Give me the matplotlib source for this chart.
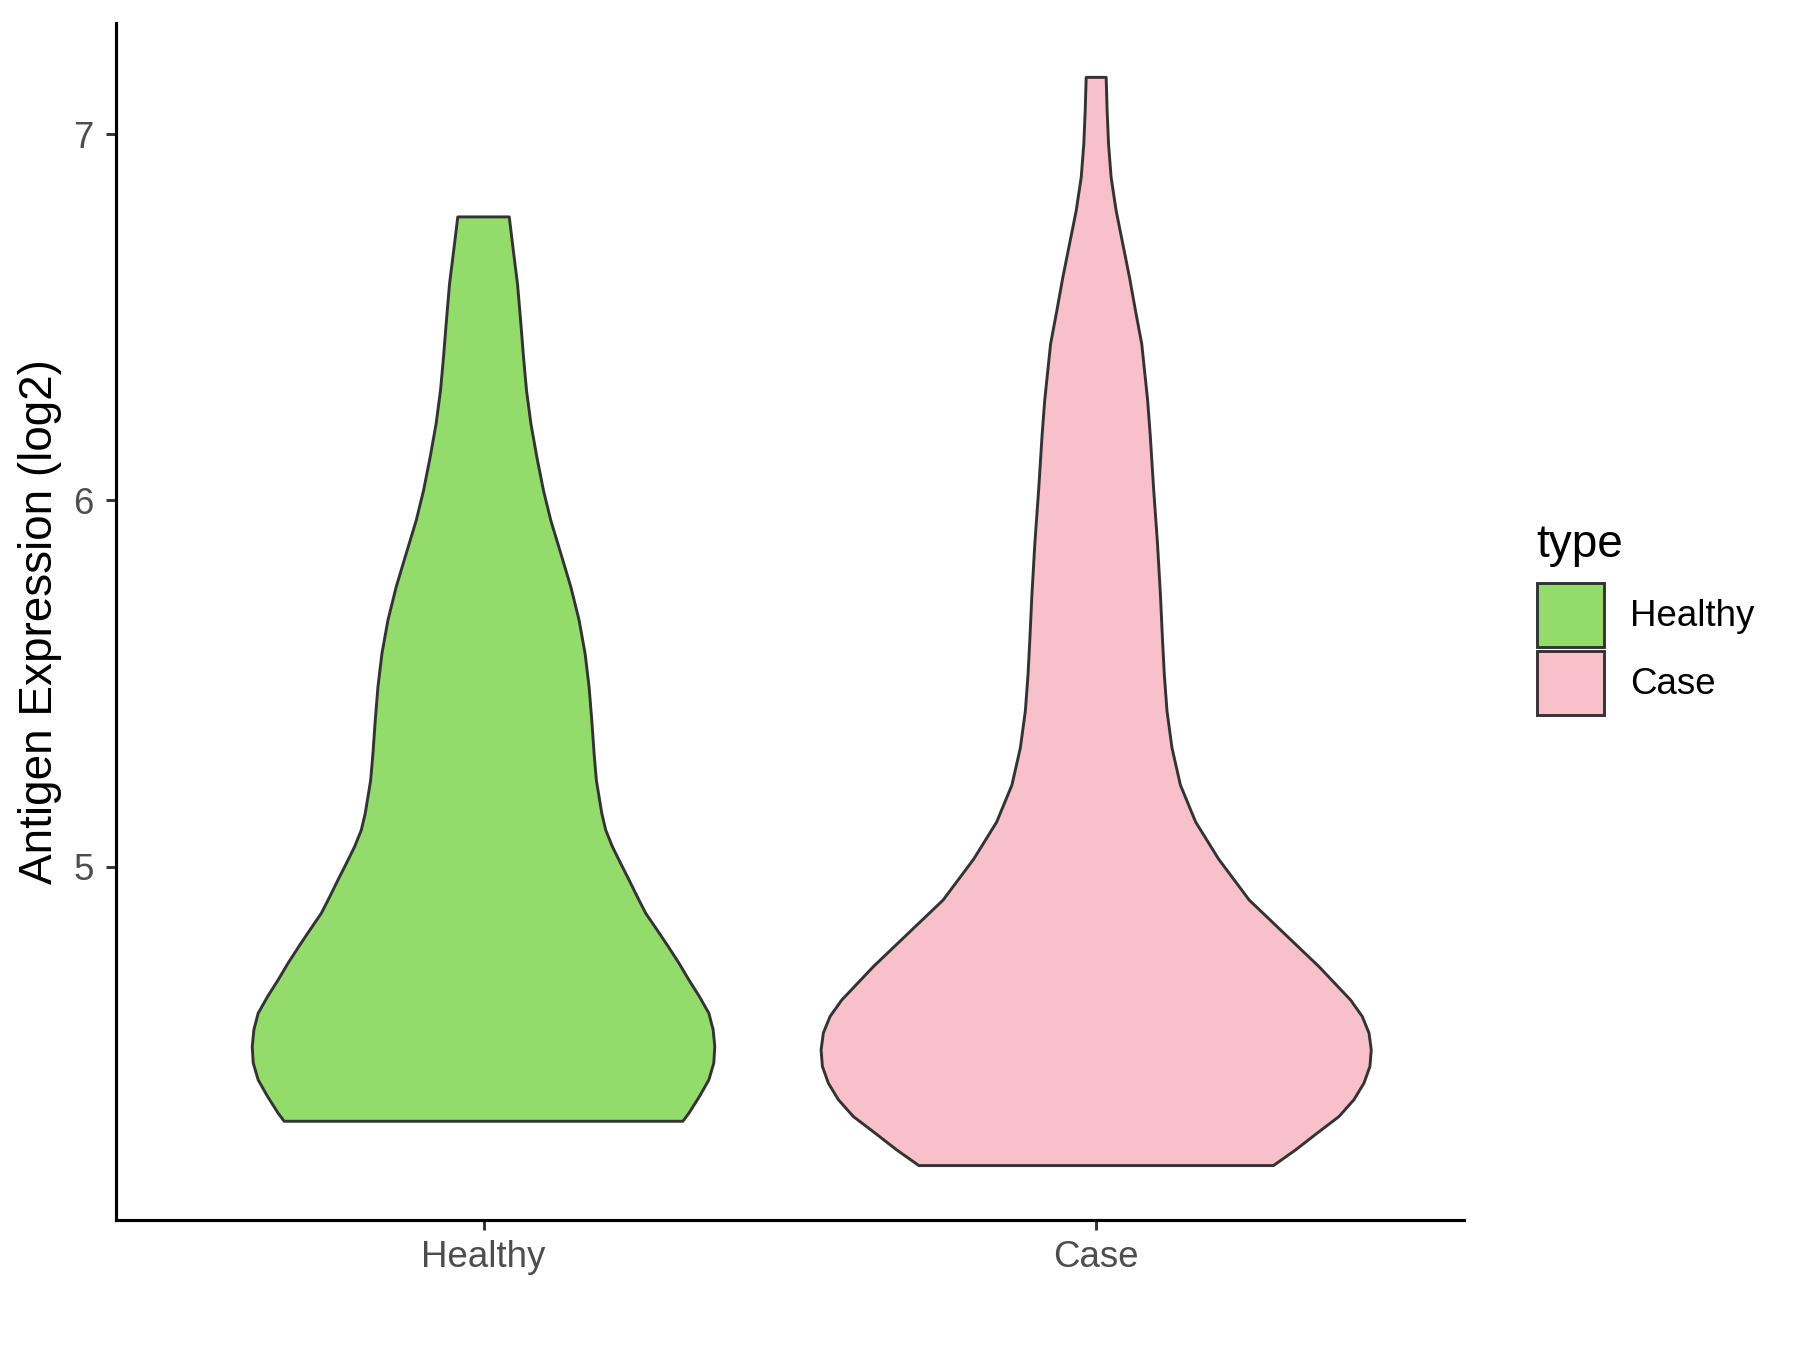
import matplotlib
matplotlib.use("Agg")
import numpy as np
import matplotlib.pyplot as plt
from matplotlib.patches import Patch

plt.rcParams['font.family'] = ['Liberation Sans', 'DejaVu Sans']

# === Data: violin outline (value, half width) ===
categories = ['Healthy', 'Case']
fill_colors = ['#93DC6B', '#F7C0CB']

healthy_y = [6.774, 6.664, 6.591, 6.482, 6.391, 6.300, 6.209, 6.118, 6.027,
             5.945, 5.855, 5.764, 5.673, 5.582, 5.491, 5.400, 5.309, 5.236,
             5.191, 5.146, 5.100, 5.055, 5.009, 4.964, 4.918, 4.873, 4.827,
             4.782, 4.737, 4.691, 4.645, 4.600, 4.555, 4.509, 4.464, 4.418,
             4.373, 4.327, 4.305]
healthy_w = [0.042, 0.050, 0.0555, 0.061, 0.0653, 0.0702, 0.0774, 0.0871, 0.0979,
             0.1099, 0.1262, 0.1425, 0.1560, 0.1658, 0.1723, 0.1767, 0.1805, 0.1842,
             0.1886, 0.1930, 0.1995, 0.2103, 0.2239, 0.2375, 0.2510, 0.2647, 0.2835,
             0.3015, 0.3189, 0.3352, 0.3526, 0.3678, 0.3748, 0.3775, 0.3759, 0.3678,
             0.3526, 0.3352, 0.3254]

case_y = [7.155, 7.064, 6.973, 6.882, 6.791, 6.700, 6.609, 6.518, 6.427,
          6.275, 6.177, 6.031, 5.885, 5.739, 5.626, 5.525, 5.425, 5.324,
          5.223, 5.122, 5.021, 4.909, 4.818, 4.727, 4.636, 4.591, 4.546,
          4.500, 4.455, 4.409, 4.364, 4.318, 4.273, 4.227, 4.184]
case_w = [0.0163, 0.0179, 0.0202, 0.0244, 0.0326, 0.0435, 0.0544, 0.0642, 0.0744,
          0.0839, 0.0883, 0.0938, 0.1000, 0.1050, 0.1081, 0.1112, 0.1156, 0.1238,
          0.1375, 0.1624, 0.1998, 0.2498, 0.3068, 0.3638, 0.4153, 0.4344, 0.4453,
          0.4490, 0.4469, 0.4371, 0.4208, 0.3964, 0.3611, 0.3257, 0.2894]

profiles = [(healthy_y, healthy_w), (case_y, case_w)]

# === Plotting ===
fig = plt.figure(figsize=(6, 4.5), dpi=300)
ax = fig.add_axes([0.0644, 0.0963, 0.8132 - 0.0644, 0.983 - 0.0963])

for i, ((ys, ws), col) in enumerate(zip(profiles, fill_colors)):
    pos = i + 1
    ys = np.array(ys)
    ws = np.array(ws)
    xs = np.concatenate([pos + ws, (pos - ws)[::-1]])
    yy = np.concatenate([ys, ys[::-1]])
    ax.fill(xs, yy, facecolor=col, edgecolor='#333333', linewidth=0.7,
            joinstyle='round')

# ggplot-style limits (5% expansion of data range, 0.6 on discrete axis)
all_y = np.concatenate([healthy_y, case_y])
rng = all_y.max() - all_y.min()
ax.set_ylim(all_y.min() - 0.05 * rng, all_y.max() + 0.05 * rng)
ax.set_xlim(0.4, 2.6)

ax.set_xticks([1, 2])
ax.set_xticklabels(categories)
ax.set_yticks([5, 6, 7])
ax.set_yticklabels(['5', '6', '7'])

for side in ['top', 'right']:
    ax.spines[side].set_visible(False)
for side in ['left', 'bottom']:
    ax.spines[side].set_color('black')
    ax.spines[side].set_linewidth(0.75)

ax.tick_params(axis='both', colors='#333333', length=2.4, width=0.7,
               labelsize=8.8, labelcolor='#4D4D4D')
ax.tick_params(axis='y', pad=3)
ax.tick_params(axis='x', pad=2.5)

ax.set_ylabel('Antigen Expression (log2)', fontsize=11, color='black', va='center')
ax.yaxis.set_label_coords(-0.0564, 0.5)

# === Legend ===
handles = [Patch(facecolor=c, edgecolor='#333333', linewidth=0.7) for c in fill_colors]
leg = fig.legend(handles, categories, loc='upper left',
                 bbox_to_anchor=(1537 / 1800, 1 - 583 / 1350),
                 frameon=False, fontsize=8.8,
                 handlelength=1.83, handleheight=2.32, labelspacing=0.1,
                 handletextpad=0.71, borderpad=0, borderaxespad=0)
fig.text(1536 / 1800, 1 - 545 / 1350, 'type', fontsize=11, ha='left', va='center')

fig.savefig('out.png', dpi=300)
